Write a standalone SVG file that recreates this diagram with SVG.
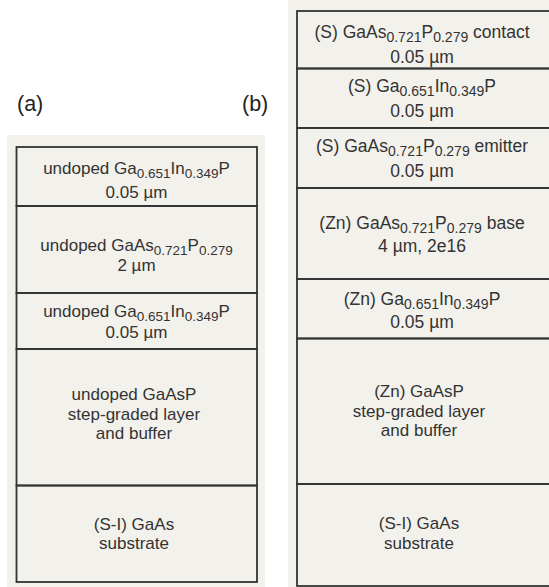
<svg xmlns="http://www.w3.org/2000/svg" width="549" height="587" viewBox="0 0 549 587">
<style>
.bg{fill:#f3f1ec}
.layer{fill:none;stroke:#333333;stroke-width:1.8}
text{font-family:"Liberation Sans",Arial,sans-serif;font-size:17px;fill:#333333;text-anchor:middle}
.r{font-size:17.5px}
.sub{font-size:13.5px}
.r .sub{font-size:14px}
.lbl{font-size:21.5px;text-anchor:start;fill:#222222}
</style>
<rect width="549" height="587" fill="#ffffff"/>
<rect class="bg" x="7" y="135" width="258" height="452"/>
<rect class="bg" x="288" y="0" width="261" height="587"/>
<text class="lbl" x="17" y="111">(a)</text>
<text class="lbl" x="242" y="111">(b)</text>

<g id="stack-a">
<g id="a1"><rect class="layer" x="16.5" y="147" width="240.5" height="59"/>
<text x="136.5" y="174">undoped Ga<tspan class="sub" dy="4">0.651</tspan><tspan dy="-4">In</tspan><tspan class="sub" dy="4">0.349</tspan><tspan dy="-4">P</tspan></text>
<text x="136.5" y="198">0.05 µm</text></g>
<g id="a2"><rect class="layer" x="16.5" y="206" width="240.5" height="87"/>
<text x="136.5" y="251">undoped GaAs<tspan class="sub" dy="4">0.721</tspan><tspan dy="-4">P</tspan><tspan class="sub" dy="4">0.279</tspan></text>
<text x="136.5" y="271">2 µm</text></g>
<g id="a3"><rect class="layer" x="16.5" y="293" width="240.5" height="56"/>
<text x="136.5" y="316.5">undoped Ga<tspan class="sub" dy="4">0.651</tspan><tspan dy="-4">In</tspan><tspan class="sub" dy="4">0.349</tspan><tspan dy="-4">P</tspan></text>
<text x="136.5" y="338">0.05 µm</text></g>
<g id="a4"><rect class="layer" x="16.5" y="349" width="240.5" height="136.5"/>
<text x="134" y="400">undoped GaAsP</text>
<text x="134" y="419.5">step-graded layer</text>
<text x="134" y="438.5">and buffer</text></g>
<g id="a5"><rect class="layer" x="16.5" y="485.5" width="240.5" height="96.5"/>
<text x="134" y="530">(S-I) GaAs</text>
<text x="134" y="548.5">substrate</text></g>
</g>

<g id="stack-b">
<g id="b1"><rect class="layer" x="297" y="11" width="260" height="57.5"/>
<text class="r" x="422" y="38">(S) GaAs<tspan class="sub" dy="4">0.721</tspan><tspan dy="-4">P</tspan><tspan class="sub" dy="4">0.279</tspan><tspan dy="-4"> contact</tspan></text>
<text class="r" x="422" y="62.5">0.05 µm</text></g>
<g id="b2"><rect class="layer" x="297" y="68.5" width="260" height="59.5"/>
<text class="r" x="422" y="92">(S) Ga<tspan class="sub" dy="4">0.651</tspan><tspan dy="-4">In</tspan><tspan class="sub" dy="4">0.349</tspan><tspan dy="-4">P</tspan></text>
<text class="r" x="422" y="116.5">0.05 µm</text></g>
<g id="b3"><rect class="layer" x="297" y="128" width="260" height="60"/>
<text class="r" x="422" y="152">(S) GaAs<tspan class="sub" dy="4">0.721</tspan><tspan dy="-4">P</tspan><tspan class="sub" dy="4">0.279</tspan><tspan dy="-4"> emitter</tspan></text>
<text class="r" x="422" y="177">0.05 µm</text></g>
<g id="b4"><rect class="layer" x="297" y="188" width="260" height="91"/>
<text class="r" x="422" y="229">(Zn) GaAs<tspan class="sub" dy="4">0.721</tspan><tspan dy="-4">P</tspan><tspan class="sub" dy="4">0.279</tspan><tspan dy="-4"> base</tspan></text>
<text class="r" x="422" y="251.5">4 µm, 2e16</text></g>
<g id="b5"><rect class="layer" x="297" y="279" width="260" height="59.5"/>
<text class="r" x="422" y="305">(Zn) Ga<tspan class="sub" dy="4">0.651</tspan><tspan dy="-4">In</tspan><tspan class="sub" dy="4">0.349</tspan><tspan dy="-4">P</tspan></text>
<text class="r" x="422" y="327.5">0.05 µm</text></g>
<g id="b6"><rect class="layer" x="297" y="338.5" width="260" height="145.5"/>
<text x="419" y="397">(Zn) GaAsP</text>
<text x="419" y="416.5">step-graded layer</text>
<text x="419" y="435.5">and buffer</text></g>
<g id="b7"><rect class="layer" x="297" y="484" width="260" height="102"/>
<text x="419" y="529">(S-I) GaAs</text>
<text x="419" y="549">substrate</text></g>
</g>
</svg>
